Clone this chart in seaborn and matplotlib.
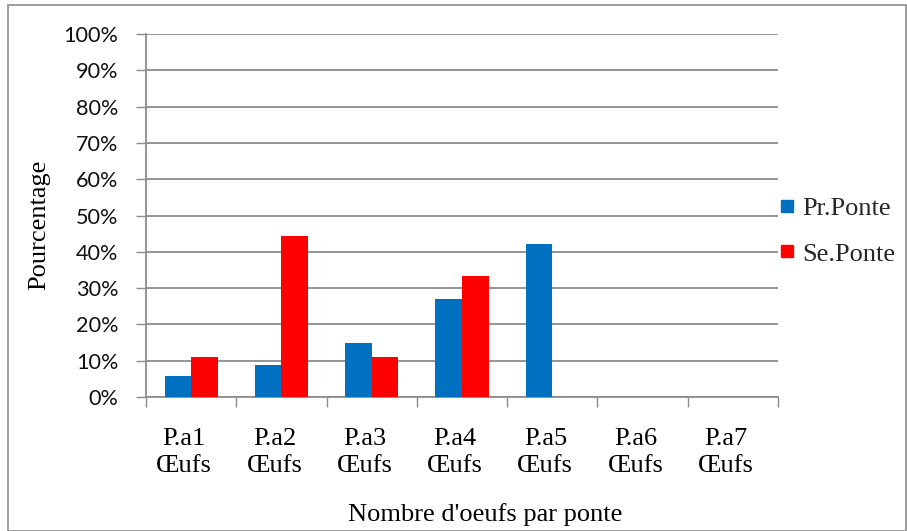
import matplotlib
matplotlib.use("Agg")
import matplotlib.pyplot as plt
import matplotlib.transforms as mtransforms
import seaborn as sns
import pandas as pd
from matplotlib.patches import Rectangle
from matplotlib.lines import Line2D
from matplotlib.ticker import FixedLocator

# Data
categories = ["P.a1\nŒufs", "P.a2\nŒufs", "P.a3\nŒufs", "P.a4\nŒufs",
              "P.a5\nŒufs", "P.a6\nŒufs", "P.a7\nŒufs"]
pr_ponte = [5.8, 8.9, 15.0, 27.0, 42.2, 0.0, 0.0]
se_ponte = [11.1, 44.4, 11.1, 33.3, 0.0, 0.0, 0.0]
series_names = ["Pr.Ponte", "Se.Ponte"]
y_ticks = list(range(0, 101, 10))

df = pd.DataFrame({
    "cat": categories * 2,
    "val": pr_ponte + se_ponte,
    "serie": [series_names[0]] * len(categories) + [series_names[1]] * len(categories),
})

sns.set_theme(style="white")
serif = ["Liberation Serif", "DejaVu Serif"]
sans = ["Lato", "DejaVu Sans"]
colors = {"Pr.Ponte": "#0070C0", "Se.Ponte": "#FF0000"}
grid_c = "#8C8C8C"
fs_serif = 19

W, H = 907, 531
x0, x1, y_top, y_bot = 146, 778, 34, 397
fig = plt.figure(figsize=(W / 100, H / 100), dpi=100)
ax = fig.add_axes([x0 / W, (H - y_bot) / H, (x1 - x0) / W, (y_bot - y_top) / H])

sns.barplot(data=df, x="cat", y="val", hue="serie", palette=colors,
            width=0.59, gap=0, saturation=1, legend=False, ax=ax,
            linewidth=0, edgecolor="none", zorder=3)

ax.set_ylim(0, 100)
ax.set_xlim(-0.5, len(categories) - 0.5)
ax.set_yticks(y_ticks)
ax.set_yticklabels([f"{t}%" for t in y_ticks], fontfamily=sans, fontsize=15.6, color="#111111")
ax.yaxis.grid(True, color=grid_c, linewidth=1.3, zorder=0)
ax.set_axisbelow(True)
ax.tick_params(axis="y", length=7, width=1, color=grid_c, pad=13, left=True)

ax.set_xticks(range(len(categories)))
ax.set_xticklabels(categories, fontfamily=serif, fontsize=fs_serif, color="black",
                   linespacing=1.3)
ax.tick_params(axis="x", which="major", length=0, pad=22)
# category labels sit slightly left of the category centre
shift = mtransforms.ScaledTranslation(-7 / 100, 0, fig.dpi_scale_trans)
for lbl in ax.get_xticklabels():
    lbl.set_transform(lbl.get_transform() + shift)
ax.xaxis.set_minor_locator(FixedLocator([i - 0.5 for i in range(len(categories) + 1)]))
ax.tick_params(axis="x", which="minor", length=7, width=1, color=grid_c, bottom=True)

for side in ["top", "right"]:
    ax.spines[side].set_visible(False)
for side in ["left", "bottom"]:
    ax.spines[side].set_color(grid_c)
    ax.spines[side].set_linewidth(1.3)

ax.set_xlabel("Nombre d'oeufs par ponte", fontfamily=serif, fontsize=fs_serif, color="black")
ax.xaxis.set_label_coords((485 - x0) / (x1 - x0), -(503 - y_bot) / (y_bot - y_top))
ax.set_ylabel("Pourcentage", fontfamily=serif, fontsize=fs_serif, color="black")
ax.yaxis.set_label_coords(-(146 - 50) / (x1 - x0), (y_bot - 225) / (y_bot - y_top))

handles = [Line2D([0], [0], marker="s", linestyle="none", markersize=9,
                  markerfacecolor=colors[s], markeredgecolor=colors[s]) for s in series_names]
leg = fig.legend(handles, series_names, loc="center left",
                 bbox_to_anchor=(755 / W, 1 - 231 / H), frameon=False,
                 prop={"family": serif, "size": fs_serif}, handlelength=0.6,
                 handletextpad=0.3, labelspacing=0.85)

fig.patches.append(Rectangle((8 / W, 0), 898 / W, 526 / H, transform=fig.transFigure,
                             fill=False, edgecolor="#8C8C8C", linewidth=1.2))

fig.savefig("out.png", dpi=100)
